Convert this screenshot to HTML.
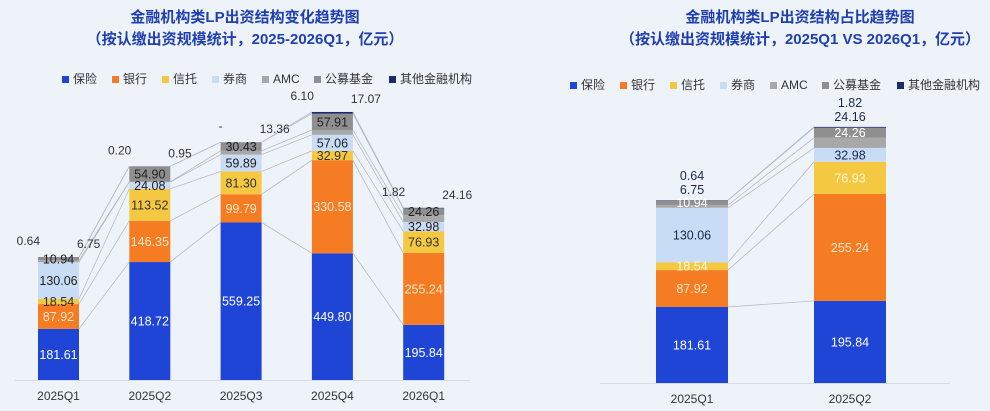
<!DOCTYPE html>
<html><head><meta charset="utf-8">
<style>
body{margin:0;width:990px;height:411px;overflow:hidden;background:#eef3fa;font-family:"Liberation Sans","Noto Sans CJK SC",sans-serif;}
svg{display:block}
</style></head>
<body>
<svg id="c" width="990" height="411"></svg>
<script>
const series = ["保险","银行","信托","券商","AMC","公募基金","其他金融机构"];
const colors = ["#1f45d6","#f57c22","#f5c842","#c9dcf5","#a8a8a8","#8f8f8f","#1a2a6c"];
const labelColors = ["#ffffff","#ffe6cc","#333333","#222222","#333333","#222222","#333333"];
const labelColorsR = ["#ffffff","#ffe6cc","#fff6dd","#1a2a4c","#ffffff","#ffffff","#1a2a4c"];
const catsL = ["2025Q1","2025Q2","2025Q3","2025Q4","2026Q1"];
const baoxian = [181.61,418.72,559.25,449.80,195.84];
const yinhang = [87.92,146.35,99.79,330.58,255.24];
const xintuo = [18.54,113.52,81.30,32.97,76.93];
const quanshang = [130.06,24.08,59.89,57.06,32.98];
const amc = [6.75,0.95,13.36,17.07,24.16];
const gongmu = [10.94,54.90,30.43,57.91,24.26];
const qita = [0.64,0.20,0,6.10,1.82];
const catsR = ["2025Q1","2025Q2"];
const idxR = [0,4];

const NS="http://www.w3.org/2000/svg";
const svg=document.getElementById('c');
function mk(t,a,p){const e=document.createElementNS(NS,t);for(const k in a)e.setAttribute(k,a[k]);(p||svg).appendChild(e);return e;}
function txt(s,x,y,a){const e=mk('text',Object.assign({x:x,y:y,'font-size':12,'text-anchor':'middle'},a));e.textContent=s;return e;}
const data=[baoxian,yinhang,xintuo,quanshang,amc,gongmu,qita];
const order=[0,1,2,3,4,5,6];

function drawChart(cfg){
  const g=mk('g',{});
  
  
  const t1=txt(cfg.title1,cfg.cx,22,{'font-size':15,'font-weight':'bold',fill:'#1f3fb0'});
  
  const t2=txt(cfg.title2,cfg.cx,44,{'font-size':15,'font-weight':'bold',fill:'#1f3fb0'});
  
  let lx=cfg.legX;
  series.forEach((s,i)=>{
    const r=mk('rect',{x:lx,y:cfg.legY-7,width:7,height:7,fill:colors[i]},g);
    
    const t=txt(s,lx+11,cfg.legY,{'font-size':12,'text-anchor':'start',fill:'#333'});
    
    lx+=11+s.length*(s==="AMC"?9:12.5)+14;
  });
  const y=v=>cfg.base-v*cfg.k;
  const ax=mk('line',{x1:cfg.axX1,x2:cfg.axX2,y1:cfg.base+0.5,y2:cfg.base+0.5,stroke:'#d5dbe5'},g);
  
  const bounds=[];
  const lc=cfg.centerSmall?labelColorsR:labelColors;
  cfg.cats.forEach((c,ci)=>{
    const di=cfg.idx[ci];const x=cfg.x0+ci*cfg.step;const w=cfg.bw;
    let cum=0;const b=[];
    order.forEach(si=>{
      const v=data[si][di];const y0=y(cum),y1=y(cum+v);
      const r=mk('rect',{x:x,y:y1,width:w,height:Math.max(0,y0-y1),fill:colors[si]},g);
      
      b.push([y0,y1]);cum+=v;
    });
    bounds.push(b);
    const lab=txt(c,x+w/2,cfg.base+20,{'font-size':12,fill:'#333'});
    
    let cum2=0;
    const top=y(cum);
    order.forEach(si=>{
      const v=data[si][di];const y0=y(cum2),y1=y(cum2+v);cum2+=v;
      const s=v===0?'-':v.toFixed(2);
      let t;
      if(cfg.centerSmall && (si===6||(si===4 && y0-y1<14))){
        t=txt(s,x+w/2,si===6?top-(y0-y1<14&&si===6&&(bounds[ci][4][0]-bounds[ci][4][1])<14?20:18):top-6,{'font-size':12.5,fill:'#1a2a4c'});
      }
      else if(si===6 && !cfg.centerSmall){t=txt(s,x+2,top-12,{'font-size':12,fill:'#333','text-anchor':'end'});}
      else if(si===4 && !cfg.centerSmall){t=txt(s,x+w-2,top-9,{'font-size':12,fill:'#333','text-anchor':'start'});}
      else {t=txt(s,x+w/2,(y0+y1)/2+4.5,{'font-size':12.5,fill:lc[si]});}
      
    });
  });
  for(let ci=0;ci<cfg.cats.length-1;ci++){
    const xa=cfg.x0+ci*cfg.step+cfg.bw, xb=cfg.x0+(ci+1)*cfg.step;
    for(let s=0;s<7;s++){
      const l=mk('line',{x1:xa,y1:bounds[ci][s][1],x2:xb,y2:bounds[ci+1][s][1],stroke:'#b0b4bc','stroke-width':0.7},g);
      
    }
  }
}
drawChart({name:'left-chart',cx:245,title1:'金融机构类LP出资结构变化趋势图',title2:'（按认缴出资规模统计，2025-2026Q1，亿元）',
  legX:62,legY:83,base:380,k:0.2817,x0:38,step:91.3,bw:41,cats:catsL,idx:[0,1,2,3,4],axX1:15,axX2:470});
drawChart({name:'right-chart',cx:800,title1:'金融机构类LP出资结构占比趋势图',title2:'（按认缴出资规模统计，2025Q1 VS 2026Q1，亿元）',
  legX:570,legY:89,base:383,k:0.419,x0:656,step:158,bw:72,cats:catsR,idx:idxR,axX1:600,axX2:950,centerSmall:true});
</script>
</body></html>
